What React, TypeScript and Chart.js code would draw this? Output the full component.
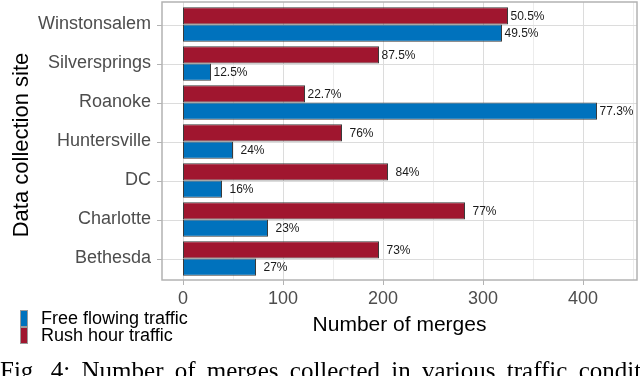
import React, { useEffect, useRef } from "react";
import { Chart, registerables } from "chart.js";

Chart.register(...registerables);

// ---- data ----
const categories = ["Winstonsalem", "Silversprings", "Roanoke", "Huntersville", "DC", "Charlotte", "Bethesda"];
const rushHour = [325, 196, 122, 159, 205, 282, 196];
const freeFlowing = [319, 28, 414, 50, 39, 85, 73];
const rushLabels = ["50.5%", "87.5%", "22.7%", "76%", "84%", "77%", "73%"];
const freeLabels = ["49.5%", "12.5%", "77.3%", "24%", "16%", "23%", "27%"];
const xTicks = [0, 100, 200, 300, 400];
const xMinorTicks = [50, 150, 250, 350, 450];
const seriesNames = ["Rush hour traffic", "Free flowing traffic"];
const yTitle = "Data collection site";
const xTitle = "Number of merges";
const captionText = "Fig. 4: Number of merges collected in various traffic conditions";

const SANS = "'Liberation Sans', Arial, Helvetica, sans-serif";
const RED = "#A0162F";
const BLUE = "#0072BD";

export default function App() {
  const ref = useRef<HTMLCanvasElement>(null);

  useEffect(() => {
    const canvas = ref.current!;

    const panelPlugin = {
      id: "panelPlugin",
      beforeDatasetsDraw(chart: any) {
        const { ctx, chartArea, scales } = chart;
        const xs = scales.x;
        const ys = scales.y;
        const top = chartArea.top - 3;
        const bottom = chartArea.bottom + 2;
        const left = chartArea.left;
        const right = chartArea.right;
        ctx.save();
        ctx.lineWidth = 1;
        ctx.strokeStyle = "#ececec";
        xMinorTicks.forEach((v) => {
          const px = Math.round(xs.getPixelForValue(v)) + 0.5;
          if (px > left && px < right) {
            ctx.beginPath();
            ctx.moveTo(px, top);
            ctx.lineTo(px, bottom);
            ctx.stroke();
          }
        });
        ctx.strokeStyle = "#dcdcdc";
        xTicks.forEach((v) => {
          const px = Math.round(xs.getPixelForValue(v)) + 0.5;
          ctx.beginPath();
          ctx.moveTo(px, top);
          ctx.lineTo(px, bottom);
          ctx.stroke();
        });
        categories.forEach((_, i) => {
          const py = Math.round(ys.getPixelForValue(i)) + 0.5;
          ctx.beginPath();
          ctx.moveTo(left, py);
          ctx.lineTo(right, py);
          ctx.stroke();
        });
        ctx.restore();
      },
      afterDatasetsDraw(chart: any) {
        const { ctx, chartArea, scales } = chart;
        const xs = scales.x;
        const ys = scales.y;
        const top = chartArea.top - 3;
        const bottom = chartArea.bottom + 2;
        const left = chartArea.left;
        const right = chartArea.right;
        ctx.save();
        // value labels
        const allLabels = [rushLabels, freeLabels];
        ctx.font = `12px ${SANS}`;
        ctx.fillStyle = "#1a1a1a";
        ctx.textAlign = "center";
        ctx.textBaseline = "middle";
        chart.data.datasets.forEach((_: any, di: number) => {
          const meta = chart.getDatasetMeta(di);
          meta.data.forEach((el: any, i: number) => {
            ctx.fillText(allLabels[di][i], el.x + 19.5, el.y + 1);
          });
        });
        // panel border
        ctx.strokeStyle = "#b3b3b3";
        ctx.lineWidth = 1.5;
        ctx.strokeRect(left, top, right - left, bottom - top);
        // tick marks
        ctx.lineWidth = 1;
        categories.forEach((_, i) => {
          const py = Math.round(ys.getPixelForValue(i)) + 0.5;
          ctx.beginPath();
          ctx.moveTo(left - 5, py);
          ctx.lineTo(left, py);
          ctx.stroke();
        });
        xTicks.forEach((v) => {
          const px = Math.round(xs.getPixelForValue(v)) + 0.5;
          ctx.beginPath();
          ctx.moveTo(px, bottom);
          ctx.lineTo(px, bottom + 5);
          ctx.stroke();
        });
        ctx.restore();
      },
      afterDraw(chart: any) {
        const { ctx } = chart;
        const ds = chart.data.datasets;
        const order = [1, 0];
        ctx.save();
        // y axis title
        ctx.save();
        ctx.translate(22, 145);
        ctx.rotate(-Math.PI / 2);
        ctx.font = `22px ${SANS}`;
        ctx.fillStyle = "#000000";
        ctx.textAlign = "center";
        ctx.textBaseline = "middle";
        ctx.fillText(yTitle, 0, 0);
        ctx.restore();
        // legend
        ctx.font = `18px ${SANS}`;
        ctx.textAlign = "left";
        ctx.textBaseline = "middle";
        order.forEach((di, k) => {
          const y0 = 310 + k * 17;
          ctx.fillStyle = ds[di].backgroundColor;
          ctx.fillRect(20, y0, 8, 17);
          ctx.strokeStyle = "#9a9a9a";
          ctx.lineWidth = 1;
          ctx.strokeRect(20.5, y0 + 0.5, 7, 16);
          ctx.fillStyle = "#000000";
          ctx.fillText(ds[di].label, 41, y0 + 9);
        });
        ctx.restore();
      },
    };

    const chart = new Chart(canvas, {
      type: "bar",
      data: {
        labels: categories,
        datasets: [
          {
            label: seriesNames[0],
            data: rushHour,
            backgroundColor: RED,
            borderColor: "#3a3a3a",
            borderWidth: 1,
            borderSkipped: false,
            categoryPercentage: 0.88,
            barPercentage: 1,
          },
          {
            label: seriesNames[1],
            data: freeFlowing,
            backgroundColor: BLUE,
            borderColor: "#3a3a3a",
            borderWidth: 1,
            borderSkipped: false,
            categoryPercentage: 0.88,
            barPercentage: 1,
          },
        ],
      },
      options: {
        indexAxis: "y",
        responsive: false,
        animation: false,
        devicePixelRatio: 1,
        layout: { padding: { top: 5, right: 3, bottom: 0, left: 0 } },
        plugins: {
          legend: { display: false },
          tooltip: { enabled: false },
        },
        scales: {
          x: {
            type: "linear",
            min: -21,
            max: 454,
            afterBuildTicks: (s: any) => {
              s.ticks = xTicks.map((v) => ({ value: v }));
            },
            afterFit: (s: any) => {
              s.height = 98;
              s.paddingLeft = 0;
              s.paddingRight = 0;
              s.paddingTop = 0;
              s.paddingBottom = 0;
            },
            grid: { display: false, drawTicks: false },
            border: { display: false },
            ticks: {
              font: { family: SANS, size: 18 },
              color: "#4d4d4d",
              padding: 10,
              maxRotation: 0,
            },
            title: {
              display: true,
              text: xTitle,
              font: { family: SANS, size: 21 },
              color: "#000000",
              padding: { top: 0, bottom: 38 },
            },
          },
          y: {
            type: "category",
            afterFit: (s: any) => {
              s.width = 162;
              s.paddingLeft = 0;
              s.paddingRight = 0;
              s.paddingTop = 0;
              s.paddingBottom = 0;
            },
            grid: { display: false, drawTicks: false },
            border: { display: false },
            ticks: {
              font: { family: SANS, size: 18 },
              color: "#4d4d4d",
              padding: 11,
            },
            title: { display: false },
          },
        },
      },
      plugins: [panelPlugin],
    } as any);

    return () => chart.destroy();
  }, []);

  return (
    <div
      style={{
        position: "absolute",
        left: 0,
        top: 0,
        width: 640,
        height: 376,
        overflow: "hidden",
        background: "#ffffff",
      }}
    >
      <canvas ref={ref} width={640} height={376} style={{ display: "block", width: 640, height: 376 }} />
      <div
        style={{
          position: "absolute",
          left: 0,
          top: 358,
          whiteSpace: "nowrap",
          fontFamily: "'Liberation Serif', 'Times New Roman', serif",
          fontSize: 25,
          lineHeight: "25px",
          wordSpacing: "5px",
          color: "#000",
        }}
      >
        {captionText}
      </div>
    </div>
  );
}
